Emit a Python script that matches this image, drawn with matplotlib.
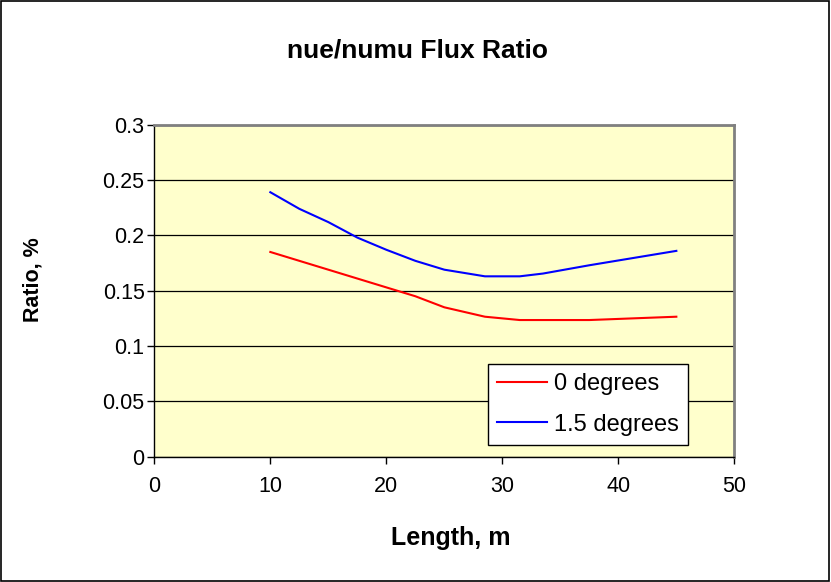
import matplotlib.pyplot as plt
from matplotlib.patches import Rectangle

plt.rcParams['font.family'] = ['Liberation Sans', 'DejaVu Sans']

# flux ratio vs decay length, two off-axis angles
length_m = [10, 12.5, 15, 17.5, 20, 22.5, 25, 28.5, 31.5, 33.5, 37.5, 45]
ratio_0deg = [0.185, 0.177, 0.169, 0.161, 0.153, 0.145, 0.135, 0.1265, 0.1235, 0.1235, 0.1235, 0.1265]
ratio_15deg = [0.239, 0.224, 0.212, 0.198, 0.187, 0.177, 0.169, 0.163, 0.163, 0.1655, 0.173, 0.186]

x_ticks = [0, 10, 20, 30, 40, 50]
y_ticks = [0, 0.05, 0.1, 0.15, 0.2, 0.25, 0.3]
y_tick_labels = ['0', '0.05', '0.1', '0.15', '0.2', '0.25', '0.3']

fig = plt.figure(figsize=(8.31, 5.82), dpi=100)
ax = fig.add_axes([0.1857, 0.2153, 0.698, 0.5704])
ax.set_facecolor('#FFFFCC')

ax.plot(length_m, ratio_0deg, color='#FF0000', lw=1.5, label='0 degrees')
ax.plot(length_m, ratio_15deg, color='#0000FF', lw=1.5, label='1.5 degrees')

ax.set_xlim(0, 50)
ax.set_ylim(0, 0.3)
ax.set_xticks(x_ticks)
ax.set_yticks(y_ticks)
ax.set_yticklabels(y_tick_labels)
ax.grid(axis='y', color='black', lw=0.9)
ax.set_axisbelow(True)

for side in ('top', 'right'):
    ax.spines[side].set_color('#808080')
    ax.spines[side].set_linewidth(2)
for side in ('left', 'bottom'):
    ax.spines[side].set_color('black')
    ax.spines[side].set_linewidth(1)

ax.tick_params(axis='both', direction='out', length=5, width=1, labelsize=15.5)
ax.tick_params(axis='y', pad=2)
ax.tick_params(axis='x', pad=9)

fig.text(0.542, 0.076, 'Length, m', ha='center', va='center',
         fontsize=18, fontweight='bold')
fig.text(0.040, 0.519, 'Ratio, %', ha='center', va='center', rotation=90,
         fontsize=15.5, fontweight='bold')
fig.text(0.502, 0.914, 'nue/numu Flux Ratio', ha='center', va='center',
         fontsize=19, fontweight='bold')

leg = ax.legend(loc='lower right', bbox_to_anchor=(0.92, 0.035), fontsize=17,
                frameon=True, fancybox=False, framealpha=1, edgecolor='black',
                handlelength=2.1, handletextpad=0.3, borderpad=0.4,
                borderaxespad=0, labelspacing=0.78)
leg.get_frame().set_linewidth(1)

# outer chart border
fig.patches.append(Rectangle((0.001, 0.002), 0.997, 0.996, transform=fig.transFigure,
                             fill=False, edgecolor='black', lw=1.2))

fig.savefig('out.png', dpi=100)
